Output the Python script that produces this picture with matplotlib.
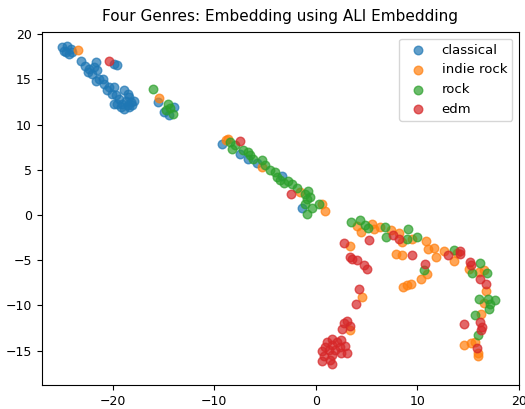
import matplotlib
matplotlib.use("Agg")
import matplotlib.pyplot as plt

genres = ["classical", "indie rock", "rock", "edm"]
colors = ["#1f77b4", "#ff7f0e", "#2ca02c", "#d62728"]

classical_x = [-24.99, -24.50, -24.16, -24.65, -24.82, -24.33, -24.00,
               -19.87, -19.54,
               -23.17, -22.74, -22.35, -21.68, -21.85, -22.42, -22.02, -21.52,
               -21.36, -20.96, -21.68, -20.86, -20.37, -19.87, -20.53, -20.04,
               -19.70, -19.38, -18.88, -18.55, -18.39, -18.71, -18.22, -17.89,
               -18.06, -18.55, -19.05, -19.54, -19.87, -19.21, -18.39, -18.88,
               -15.58, -13.93, -14.92, -14.43,
               -9.21, -7.50, -6.67, -5.84, -3.37, -1.39]
classical_y = [18.56, 18.75, 18.39, 18.01, 18.20, 17.83, 18.01,
               16.73, 16.62,
               17.09, 16.46, 16.18, 16.98, 16.35, 15.80, 15.62, 15.99,
               15.07, 15.07, 14.88, 14.52, 14.14, 14.14, 13.78, 13.41,
               13.23, 12.86, 13.78, 13.41, 13.04, 12.67, 12.49, 12.67,
               12.12, 12.12, 12.31, 12.31, 12.31, 11.93, 11.93, 11.76,
               12.49, 11.93, 11.38, 11.09,
               7.89, 6.78, 6.23, 5.79, 4.31, 0.77]

indie_x = [-23.41, -15.49, -8.65, -8.88, -5.35, -1.55, 0.59, 0.92,
           4.06, 4.46, 5.54, 5.70, 6.30, 7.36, 8.18, 8.45, 9.50, 10.82,
           11.64, 10.99, 11.81, 7.85, 8.51, 10.92, 10.33, 9.34, 8.94, 8.59,
           12.63, 13.56, 13.89,
           3.35, 4.53, 3.33,
           15.05, 16.10, 16.53, 16.76, 16.59, 16.27, 14.55, 15.28, 15.70,
           16.00, 16.00]
indie_y = [18.31, 12.97, 8.36, 8.25, 5.30, 2.54, 1.26, 0.41,
           -1.22, -1.88, -0.95, -1.58, -1.33, -1.69, -1.94, -2.98, -2.61, -2.85,
           -3.60, -3.79, -4.64, -4.27, -4.45, -6.55, -7.03, -7.66, -7.71, -7.91,
           -3.98, -5.06, -4.24,
           -3.46, -9.07, -12.74,
           -5.92, -6.30, -6.11, -8.40, -9.72, -10.90, -14.40, -14.21, -14.03,
           -15.25, -15.61]

rock_x = [-16.01, -14.59, -14.75, -14.33, -14.10,
          -8.42, -8.22, -7.99, -7.17, -6.67, -6.44, -6.24, -5.35, -5.02, -4.52,
          -4.03, -3.86, -3.53, -3.14, -2.71, -2.38, -1.82, -1.06, -0.73, -0.89,
          -0.56, -1.06, -0.89, -0.40, 0.26,
          3.47, 4.39, 4.88, 5.11, 6.76, 6.86, 9.07, 8.94, 10.00, 10.62, 13.62,
          15.35, 16.20, 16.86, 16.10, 16.93, 17.65, 17.19, 17.09, 15.70, 16.00]
rock_y = [13.97, 12.29, 11.57, 11.79, 11.20,
          8.07, 7.34, 7.70, 7.15, 6.96, 6.60, 6.23, 6.04, 5.49, 4.94,
          4.75, 4.20, 3.83, 3.58, 3.72, 3.47, 2.98, 2.36, 2.62, 1.73,
          1.99, 1.26, 0.15, 0.77, 1.26,
          -0.77, -0.59, -1.14, -1.44, -1.33, -2.43, -1.58, -2.69, -2.43, -6.11, -3.82,
          -6.41, -5.30, -6.41, -9.24, -9.24, -9.35, -9.79, -10.34, -11.08, -13.29]

edm_x = [-20.37, -7.43, -2.48,
         7.62, 8.18, 9.50, 10.77, 12.97, 14.22, 14.22,
         2.80, 5.21, 3.40, 3.56, 4.06, 4.71, 5.05, 4.22, 3.99, 3.07, 2.80, 3.33, 2.57,
         1.58, 1.09, 2.08, 2.48, 0.92, 1.58, 2.34, 2.90, 0.59, 1.25, 1.91, 2.48,
         3.07, 0.75, 1.58, 0.59, 1.35, 1.58,
         15.21, 15.28, 16.20, 16.76, 14.55, 16.20, 16.34, 16.27, 15.87]
edm_y = [17.09, 8.14, 2.36,
         -2.17, -2.61, -4.45, -5.43, -4.40, -3.98, -4.34,
         -3.07, -2.72, -4.64, -4.84, -5.01, -5.56, -6.00, -8.18, -9.83, -11.71, -11.93, -12.24, -12.66,
         -13.66, -14.03, -14.03, -13.85, -14.59, -14.40, -14.59, -14.51, -15.03, -14.95, -14.95, -15.25,
         -15.25, -15.61, -15.50, -16.13, -16.06, -16.50,
         -5.19, -5.56, -7.03, -7.58, -12.08, -11.82, -12.38, -12.74, -14.70]

series = [(classical_x, classical_y), (indie_x, indie_y), (rock_x, rock_y), (edm_x, edm_y)]

fig = plt.figure(figsize=(5.25, 4.09), dpi=100)
ax = fig.add_axes([0.0794, 0.0587, 0.9886 - 0.0794, 0.9218 - 0.0587])
for name, col, (xs, ys) in zip(genres, colors, series):
    ax.scatter(xs, ys, color=col, alpha=0.7, s=38, label=name)

ax.set_xlim(-27.0, 20.0)
ax.set_ylim(-18.8, 20.25)
ax.set_xticks([-20, -10, 0, 10, 20])
ax.set_yticks([-15, -10, -5, 0, 5, 10, 15, 20])
ax.tick_params(labelsize=9)
ax.set_title("Four Genres: Embedding using ALI Embedding", fontsize=11, pad=8)
ax.legend(loc="upper right", fontsize=9.5)

fig.savefig("out.png", dpi=100)
